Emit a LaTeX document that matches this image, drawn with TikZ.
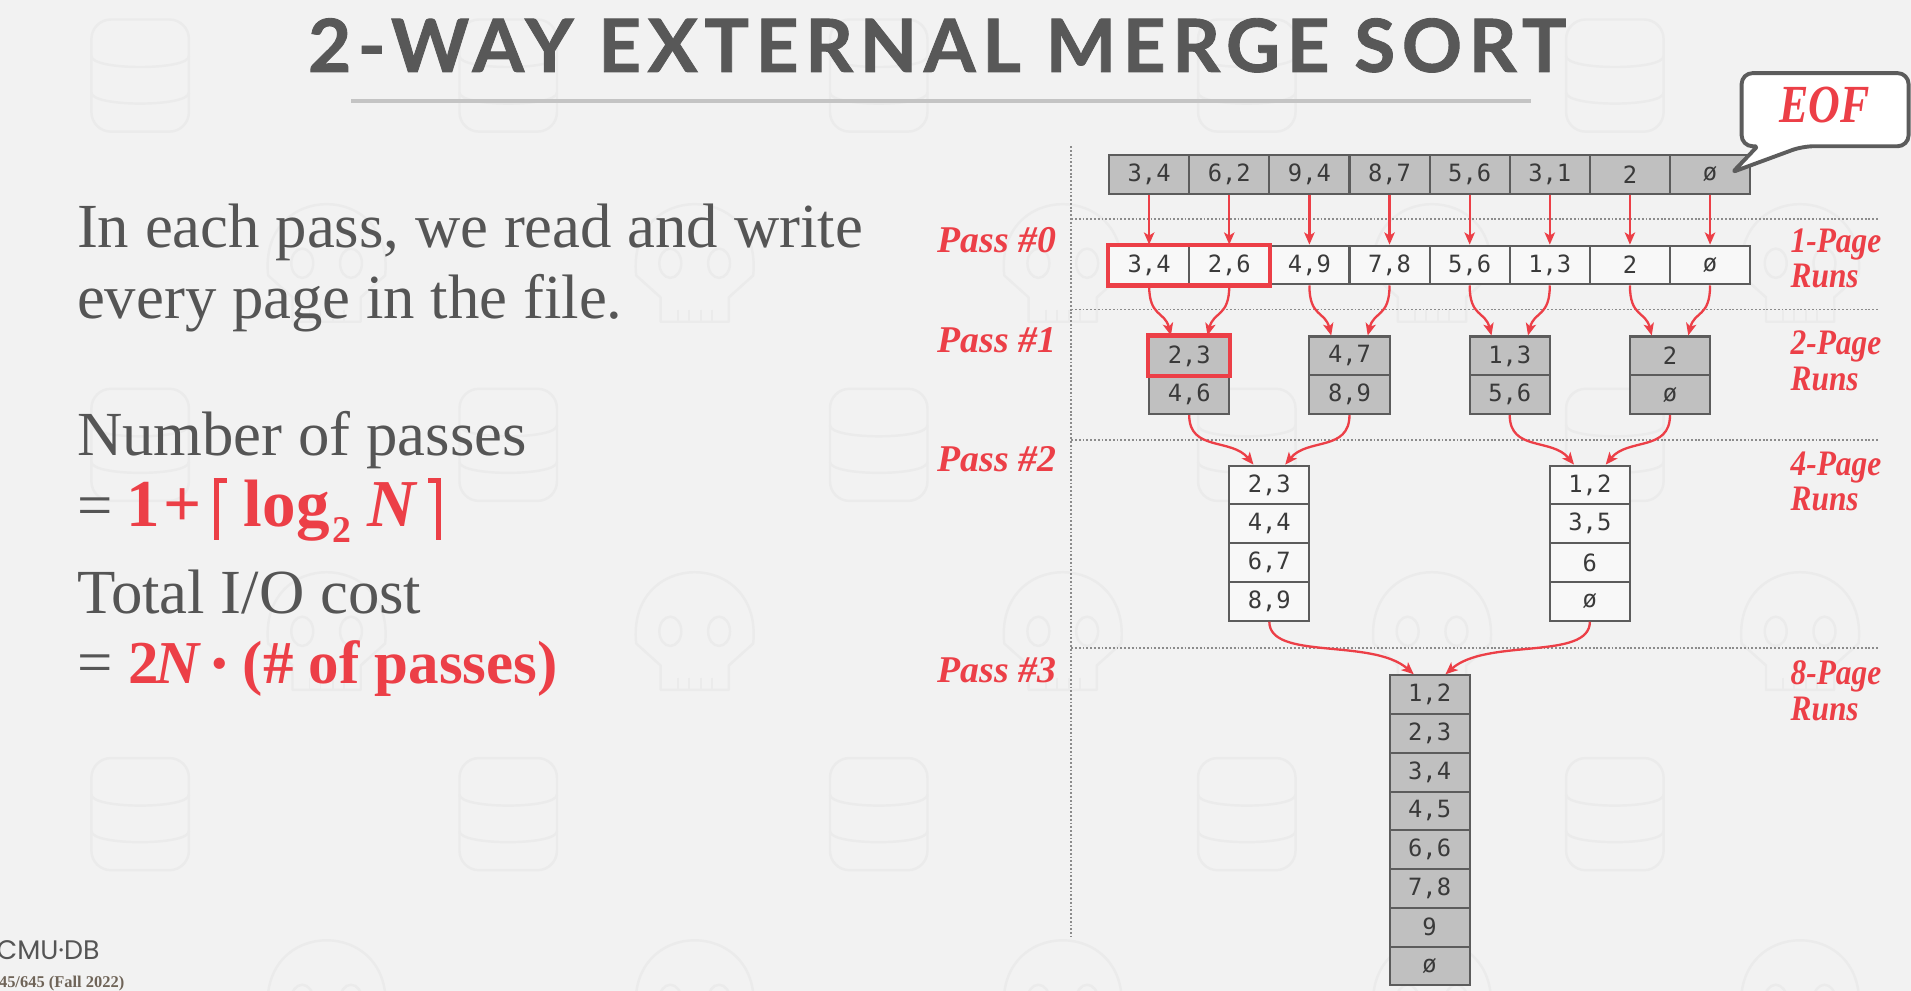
\documentclass[tikz,border=0pt]{standalone}
\usepackage{fontspec}
\usepackage{graphicx}
\usetikzlibrary{arrows.meta}

\newfontfamily\titlefont[LetterSpace=9, BoldFeatures={FakeBold=1.2}]{Lato}
\newfontfamily\tnr{Liberation Serif}
\newfontfamily\monofont{DejaVu Sans Mono}
\newfontfamily\logofont{Poppins}

\definecolor{bg}{HTML}{F2F2F2}
\definecolor{wmgray}{HTML}{EBEBEB}
\definecolor{txt}{HTML}{555555}
\definecolor{titlegray}{HTML}{585858}
\definecolor{hot}{HTML}{EC3F47}
\definecolor{cellgray}{HTML}{C0C0C0}
\definecolor{cellwhite}{HTML}{F8F8F8}
\definecolor{cellline}{HTML}{5C5C5C}
\definecolor{celltext}{HTML}{3A3A3A}
\definecolor{rulegray}{HTML}{C4C4C4}
\definecolor{dots}{HTML}{8C8C8C}
\definecolor{course}{HTML}{6F6458}

% heavy ceiling brackets
\newcommand\lceilbar{\rlap{\rule[-11pt]{4.5pt}{51pt}}\rule[35.5pt]{11pt}{4.5pt}}
\newcommand\rceilbar{\rlap{\rule[35.5pt]{11pt}{4.5pt}}\hspace{6.5pt}\rule[-11pt]{4.5pt}{51pt}}

\tikzset{
  wm/.style={draw=wmgray, line width=2pt},
  cell/.style={draw=cellline, line width=1.7pt, minimum width=65.75pt,
    minimum height=31.8pt, inner sep=0pt, text=celltext,
    font=\monofont\fontsize{19.5}{19.5}\selectfont},
  gcell/.style={cell, fill=cellgray},
  wcell/.style={cell, fill=cellwhite},
  hl/.style={draw=hot, line width=3.4pt},
  arr/.style={draw=hot, line width=1.9pt,
    -{Stealth[length=10pt,width=8.5pt,inset=2.5pt]}},
  dotline/.style={draw=dots, line width=1.5pt, dash pattern=on 1.5pt off 1.6pt},
  passlbl/.style={anchor=base east, inner sep=0pt, text=hot,
    font=\tnr\bfseries\itshape\fontsize{31}{31}\selectfont},
  runlbl/.style={anchor=base west, inner sep=0pt, text=hot,
    font=\tnr\bfseries\itshape\fontsize{28}{28}\selectfont},
  body/.style={anchor=base west, inner sep=0pt, text=txt,
    font=\tnr\fontsize{51.5}{54}\selectfont},
}

\begin{document}
\begin{tikzpicture}[x=1pt,y=-1pt]
\fill[bg] (0,0) rectangle (1568,813);
\useasboundingbox (0,0) rectangle (1568,813);
\clip (0,0) rectangle (1568,813);

% faint background pattern: database stacks and skulls
\foreach \cx in {115,417,721,1023,1325}
  \foreach \cy in {62,365,668}{
    \begin{scope}[shift={(\cx,\cy)}]
      \draw[wm, rounded corners=16pt] (-40,-46) rectangle (40,46);
      \draw[wm] (-40,-16) .. controls (-40,-4) and (40,-4) .. (40,-16);
      \draw[wm] (-40,14) .. controls (-40,26) and (40,26) .. (40,14);
    \end{scope}
  }
\foreach \sx in {268,570,872,1175,1477}
  \foreach \sy in {214,516,818}{
    \begin{scope}[shift={(\sx,\sy)}]
      \draw[wm, line join=round] (-48,12) .. controls (-56,-66) and (56,-66) .. (48,12)
        -- (28,30) -- (28,50) -- (-28,50) -- (-28,30) -- cycle;
      \draw[wm] (-20,2) ellipse (9 and 12);
      \draw[wm] (20,2) ellipse (9 and 12);
      \foreach \tx in {-14,-5,5,14}
        \draw[wm, line width=1.5pt] (\tx,40) -- (\tx,50);
    \end{scope}
  }

% heading
\node[anchor=base, inner sep=0pt, text=titlegray] (title) at (769,59)
  {\resizebox{1032pt}{44pt}{\titlefont\bfseries 2-WAY EXTERNAL MERGE SORT}};
\draw[rulegray, line width=3.5pt] (288,83) -- (1256,83);

% left column text
\node[body] (t1) at (63,203) {In each pass, we read and write};
\node[body] (t2) at (63,261) {every page in the file.};
\node[body] (t3) at (63,374) {Number of passes};
\node[body] (f1) at (63,432) {\makebox[41pt][l]{=}{\color{hot}\fontsize{55}{55}\selectfont\bfseries
  \makebox[30pt][l]{1}\makebox[41pt][l]{+}\makebox[25pt][l]{\lceilbar}%
  \makebox[73pt][l]{log}\makebox[28pt][l]{\raisebox{-13pt}{\fontsize{31}{31}\selectfont 2}}%
  \makebox[50pt][l]{\itshape N}\rceilbar}};
\node[body] (t4) at (63,503) {Total I/O cost};
\node[body] (f2) at (63,561) {\makebox[42pt][l]{=}{\color{hot}\fontsize{50}{50}\selectfont\bfseries
  \makebox[22pt][l]{2}\makebox[47pt][l]{\itshape N}%
  \makebox[25pt][l]{\raisebox{5pt}{\fontsize{34}{34}\selectfont\textbullet}}(\# of passes)}};

% footer
\node[anchor=base west, inner sep=0pt, text=txt, font=\logofont\fontsize{22}{22}\selectfont]
  (logo) at (-3,787) {CMU·DB};
\node[anchor=base west, inner sep=0pt, text=course, font=\tnr\bfseries\fontsize{13.5}{13.5}\selectfont]
  (course) at (-1,810) {45/645 (Fall 2022)};

% pass separators
\draw[dotline] (879,120) -- (879,768);
\foreach \yy in {180,254,361,532}
  \draw[dotline] (879,\yy) -- (1542,\yy);

% input file pages
\foreach \v [count=\i] in {3{,}4,6{,}2,9{,}4,8{,}7,5{,}6,3{,}1,2,ø}
  \node[gcell] (a\i) at ({910+65.75*(\i-0.5)},143) {\v};
% pass 0: 1-page runs
\foreach \v [count=\i] in {3{,}4,2{,}6,4{,}9,7{,}8,5{,}6,1{,}3,2,ø}
  \node[wcell] (b\i) at ({910+65.75*(\i-0.5)},217.5) {\v};
% pass 1: 2-page runs
\foreach \u/\w [count=\k] in {2{,}3/4{,}6,4{,}7/8{,}9,1{,}3/5{,}6,2/ø}{
  \node[gcell] (pa\k) at ({910+65.75*(2*\k-1)},292) {\u};
  \node[gcell] (pb\k) at ({910+65.75*(2*\k-1)},323.8) {\w};
}
% pass 2: 4-page runs
\foreach \v [count=\j] in {2{,}3,4{,}4,6{,}7,8{,}9}
  \node[wcell] (q\j) at (1041.5,{398+31.8*(\j-1)}) {\v};
\foreach \v [count=\j] in {1{,}2,3{,}5,6,ø}
  \node[wcell] (s\j) at (1304.5,{398+31.8*(\j-1)}) {\v};
% pass 3: 8-page run
\foreach \v [count=\j] in {1{,}2,2{,}3,3{,}4,4{,}5,6{,}6,7{,}8,9,ø}
  \node[gcell] (z\j) at (1173,{570+31.8*(\j-1)}) {\v};

% highlighted pages
\draw[hl] (b1.north west) rectangle (b2.south east);
\draw[hl] (pa1.north west) rectangle (pa1.south east);

% pass 0 arrows
\foreach \i in {1,...,8}
  \draw[arr] (a\i) -- (b\i);
% pass 1 arrows
\foreach \k in {1,...,4}{
  \pgfmathtruncatemacro\ka{2*\k-1}
  \pgfmathtruncatemacro\kb{2*\k}
  \draw[arr] (b\ka.south) .. controls +(0,26) and +(-5,-20) .. ([xshift=-15pt]pa\k.north);
  \draw[arr] (b\kb.south) .. controls +(0,26) and +(5,-20) .. ([xshift=15pt]pa\k.north);
}
% pass 2 arrows
\draw[arr] (pb1.south) .. controls +(0,30) and +(-18,-22) .. ([xshift=-13pt]q1.north);
\draw[arr] (pb2.south) .. controls +(0,30) and +(18,-22) .. ([xshift=13pt]q1.north);
\draw[arr] (pb3.south) .. controls +(0,30) and +(-18,-22) .. ([xshift=-13pt]s1.north);
\draw[arr] (pb4.south) .. controls +(0,30) and +(18,-22) .. ([xshift=13pt]s1.north);
% pass 3 arrows
\draw[arr] (q4.south) .. controls +(0,32) and +(-34,-30) .. ([xshift=-13pt]z1.north);
\draw[arr] (s4.south) .. controls +(0,32) and +(34,-30) .. ([xshift=13pt]z1.north);

% pass labels
\node[passlbl] (p0) at (867,207) {Pass \#0};
\node[passlbl] (p1) at (867,289) {Pass \#1};
\node[passlbl] (p2) at (867,387) {Pass \#2};
\node[passlbl] (p3) at (867,560) {Pass \#3};

% run-length labels
\node[runlbl] (r1a) at (1469,207) {\scalebox{0.92}[1.05]{1-Page}};
\node[runlbl] (r1b) at (1469,236) {\scalebox{0.92}[1.05]{Runs}};
\node[runlbl] (r2a) at (1469,291) {\scalebox{0.92}[1.05]{2-Page}};
\node[runlbl] (r2b) at (1469,320) {\scalebox{0.92}[1.05]{Runs}};
\node[runlbl] (r4a) at (1469,390) {\scalebox{0.92}[1.05]{4-Page}};
\node[runlbl] (r4b) at (1469,419) {\scalebox{0.92}[1.05]{Runs}};
\node[runlbl] (r8a) at (1469,562) {\scalebox{0.92}[1.05]{8-Page}};
\node[runlbl] (r8b) at (1469,591) {\scalebox{0.92}[1.05]{Runs}};

% end-of-file callout
\draw[draw=cellline, line width=3.2pt, fill=white, line join=round]
  (1429,90) [rounded corners=9pt] -- (1429,60) -- (1566,60) -- (1566,120)
  -- (1479,120) [rounded corners=2pt] -- (1422,141) -- (1442,120)
  [rounded corners=9pt] -- (1429,120) -- cycle;
\node[inner sep=0pt, text=hot, font=\tnr\bfseries\itshape\fontsize{40}{40}\selectfont]
  (eof) at (1497,86) {\scalebox{0.9}[1.1]{EOF}};
\end{tikzpicture}
\end{document}
